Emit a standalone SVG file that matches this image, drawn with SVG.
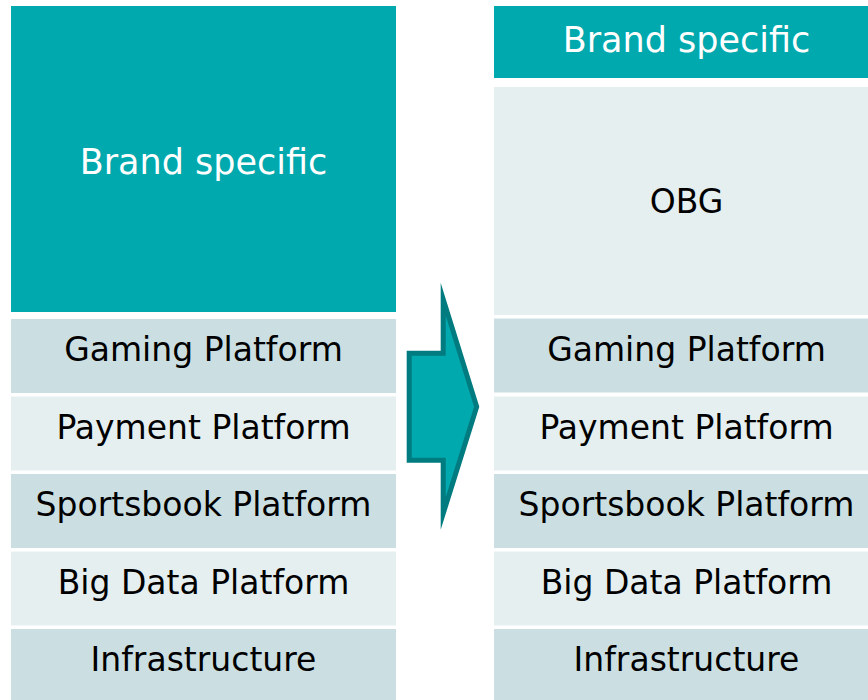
<svg xmlns="http://www.w3.org/2000/svg" width="868" height="700" viewBox="0 0 868 700">
  <style>
    .brand { fill: #00A9AE; }
    .dark { fill: #CBDFE2; }
    .light { fill: #E5EFF0; }
    text { font-family: "DejaVu Sans", "Liberation Sans", sans-serif; font-size: 33px; fill: #000000; text-anchor: middle; }
    .wt { fill: #FFFFFF; font-size: 35px; }
    .arrow { fill: #00A9AE; stroke: #007B7F; stroke-width: 5; stroke-linejoin: miter; stroke-miterlimit: 10; }
  </style>
  <rect width="868" height="700" fill="#FFFFFF"/>

  <g id="left-brand"><rect class="brand" x="11" y="6" width="385" height="306"/><text class="wt" x="203.5" y="174.3">Brand specific</text></g>
  <g id="left-gaming"><rect class="dark" x="11" y="319" width="385" height="74"/><text x="203.5" y="361">Gaming Platform</text></g>
  <g id="left-payment"><rect class="light" x="11" y="396.5" width="385" height="74"/><text x="203.5" y="438.5">Payment Platform</text></g>
  <g id="left-sportsbook"><rect class="dark" x="11" y="474" width="385" height="74"/><text x="203.5" y="516">Sportsbook Platform</text></g>
  <g id="left-bigdata"><rect class="light" x="11" y="551.5" width="385" height="74"/><text x="203.5" y="593.5">Big Data Platform</text></g>
  <g id="left-infra"><rect class="dark" x="11" y="629" width="385" height="80"/><text x="203.5" y="671">Infrastructure</text></g>

  <g id="right-brand"><rect class="brand" x="494" y="6" width="385" height="72"/><text class="wt" x="686.5" y="51.7">Brand specific</text></g>
  <g id="right-obg"><rect class="light" x="494" y="87" width="385" height="228"/><text x="686.5" y="212.7">OBG</text></g>
  <g id="right-gaming"><rect class="dark" x="494" y="318.5" width="385" height="74"/><text x="686.5" y="361">Gaming Platform</text></g>
  <g id="right-payment"><rect class="light" x="494" y="396.5" width="385" height="74"/><text x="686.5" y="438.5">Payment Platform</text></g>
  <g id="right-sportsbook"><rect class="dark" x="494" y="474" width="385" height="74"/><text x="686.5" y="516">Sportsbook Platform</text></g>
  <g id="right-bigdata"><rect class="light" x="494" y="551.5" width="385" height="74"/><text x="686.5" y="593.5">Big Data Platform</text></g>
  <g id="right-infra"><rect class="dark" x="494" y="629" width="385" height="80"/><text x="686.5" y="671">Infrastructure</text></g>

  <g id="connectors">
    <polygon class="arrow" points="443.2,299.2 476.7,406.7 443.2,513.5 443.2,460.2 409.2,460.2 409.2,353.2 443.2,353.2"/>
  </g>
</svg>
